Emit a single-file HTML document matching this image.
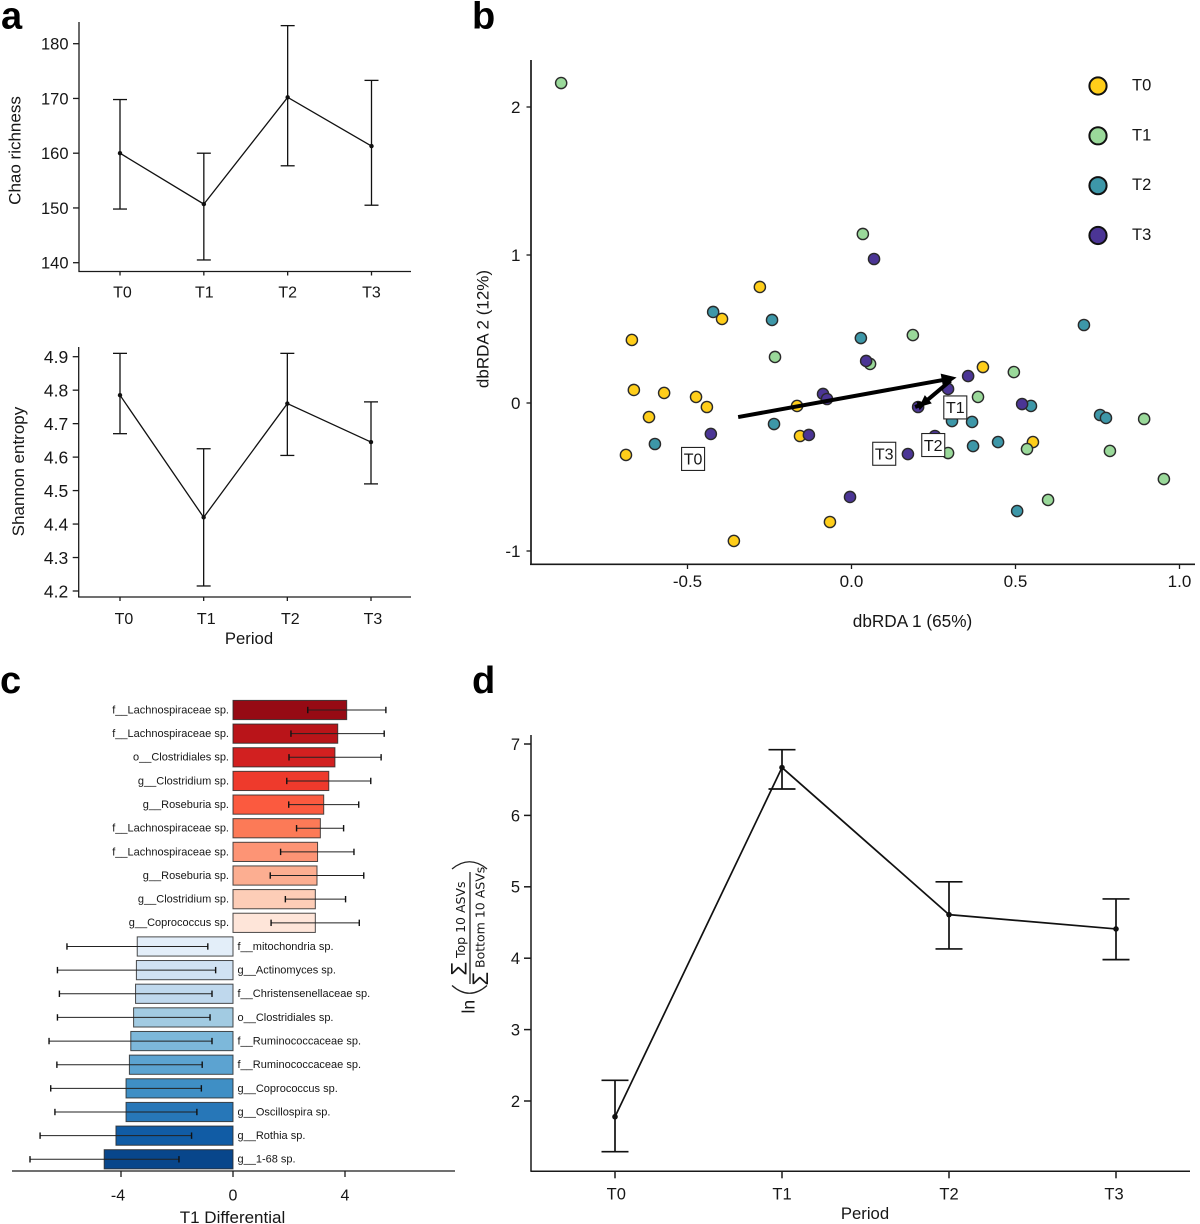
<!DOCTYPE html>
<html>
<head>
<meta charset="utf-8">
<style>
html,body{margin:0;padding:0;background:#fff;}
svg{display:block;font-family:"Liberation Sans",Arial,sans-serif;}
</style>
</head>
<body>
<svg id="fig" xmlns="http://www.w3.org/2000/svg" width="1200" height="1224" viewBox="0 0 1200 1224" fill="#161616">
  <rect width="1200" height="1224" fill="#fff"/>
  <text x="1" y="28.5" font-size="38" font-weight="bold" fill="#000">a</text>
  <text x="472" y="28.5" font-size="38" font-weight="bold" fill="#000">b</text>
  <text x="0" y="693" font-size="38" font-weight="bold" fill="#000">c</text>
  <text x="472" y="693" font-size="38" font-weight="bold" fill="#000">d</text>

  <text transform="translate(20.5,150.5) rotate(-90)" text-anchor="middle" font-size="17">Chao richness</text>
  <text transform="translate(24,471.5) rotate(-90)" text-anchor="middle" font-size="17">Shannon entropy</text>
  <text x="249" y="644" text-anchor="middle" font-size="16.7">Period</text>
  <text x="912.5" y="627" text-anchor="middle" font-size="17.2">dbRDA 1 (65%)</text>
  <text transform="translate(488.5,329) rotate(-90)" text-anchor="middle" font-size="17">dbRDA 2 (12%)</text>
  <text x="232.5" y="1223" text-anchor="middle" font-size="17">T1 Differential</text>
  <text x="865" y="1219" text-anchor="middle" font-size="16.7">Period</text>

  <g>
    <text transform="translate(474.3,1013.5) rotate(-90)" font-size="17.5">ln</text>
    <path d="M452 869Q469.5 854.5 487 869" fill="none" stroke="#222" stroke-width="1.3"/>
    <path d="M452 985.5Q469.5 1001 487 985.5" fill="none" stroke="#222" stroke-width="1.3"/>
    <line x1="470" y1="872" x2="470" y2="984" stroke="#222" stroke-width="1.3"/>
    <text transform="translate(466.7,975.5) rotate(-90)" font-size="22">Σ</text>
    <text transform="translate(465,958) rotate(-90)" font-size="12.5" font-family="DejaVu Sans">Top 10 ASVs</text>
    <text transform="translate(488,985.5) rotate(-90)" font-size="22">Σ</text>
    <text transform="translate(484.5,968) rotate(-90)" font-size="12.5" font-family="DejaVu Sans">Bottom 10 ASVs</text>
  </g>
</svg>
<script>
// ---- panel a (top) data
var periods = ['T0', 'T1', 'T2', 'T3'];
var chaoMean = [160, 150.7, 170.2, 161.3];
var chaoHigh = [169.8, 160, 183.3, 173.3];
var chaoLow = [149.8, 140.5, 157.7, 150.5];
var chaoTicks = [140, 150, 160, 170, 180];
// ---- panel a (bottom) data
var shannonMean = [4.785, 4.42, 4.76, 4.645];
var shannonHigh = [4.91, 4.625, 4.91, 4.765];
var shannonLow = [4.67, 4.215, 4.605, 4.52];
var shannonTicks = [4.2, 4.3, 4.4, 4.5, 4.6, 4.7, 4.8, 4.9];
// ---- panel b data
var t0X = [-0.666, -0.660, -0.614, -0.568, -0.471, -0.438, -0.684, -0.392, -0.277, -0.164, -0.155, -0.356, -0.064, 0.401, 0.553];
var t0Y = [0.426, 0.088, -0.095, 0.068, 0.041, -0.027, -0.351, 0.568, 0.784, -0.020, -0.223, -0.932, -0.804, 0.243, -0.264];
var t1X = [-0.881, 0.036, -0.231, 0.058, 0.188, 0.495, 0.386, 0.295, 0.535, 0.599, 0.787, 0.891, 0.951];
var t1Y = [2.162, 1.142, 0.311, 0.264, 0.459, 0.209, 0.041, -0.338, -0.311, -0.655, -0.324, -0.108, -0.514];
var t2X = [-0.419, -0.240, 0.030, -0.596, -0.234, 0.307, 0.368, 0.371, 0.447, 0.547, 0.505, 0.708, 0.757, 0.775];
var t2Y = [0.615, 0.561, 0.439, -0.277, -0.142, -0.122, -0.128, -0.291, -0.264, -0.020, -0.730, 0.527, -0.081, -0.101];
var t3X = [-0.426, -0.128, -0.085, -0.073, 0.046, 0.070, 0.356, 0.295, 0.204, 0.520, 0.255, 0.173, -0.003];
var t3Y = [-0.209, -0.216, 0.061, 0.027, 0.284, 0.973, 0.182, 0.095, -0.027, -0.007, -0.223, -0.345, -0.635];
var dbXTicks = [-0.5, 0, 0.5, 1.0];
var dbXTickLabels = ['-0.5', '0.0', '0.5', '1.0'];
var dbYTicks = [-1, 0, 1, 2];
var centroidX = [-0.343, 0.321, 0.204, 0.232];
var centroidY = [-0.095, 0.172, -0.027, 0.005];
var centroidLabelX = [-0.48, 0.317, 0.25, 0.101];
var centroidLabelY = [-0.378, -0.03, -0.284, -0.343];
var seriesNames = ['T0', 'T1', 'T2', 'T3'];
var seriesColors = ['#ffce1a', '#9ad99a', '#3d97a8', '#4b3595'];
// ---- panel c data
var taxa = ['f__Lachnospiraceae sp.', 'f__Lachnospiraceae sp.', 'o__Clostridiales sp.', 'g__Clostridium sp.', 'g__Roseburia sp.', 'f__Lachnospiraceae sp.', 'f__Lachnospiraceae sp.', 'g__Roseburia sp.', 'g__Clostridium sp.', 'g__Coprococcus sp.', 'f__mitochondria sp.', 'g__Actinomyces sp.', 'f__Christensenellaceae sp.', 'o__Clostridiales sp.', 'f__Ruminococcaceae sp.', 'f__Ruminococcaceae sp.', 'g__Coprococcus sp.', 'g__Oscillospira sp.', 'g__Rothia sp.', 'g__1-68 sp.'];
var differential = [4.06, 3.74, 3.64, 3.42, 3.24, 3.12, 3.02, 3.0, 2.94, 2.94, -3.42, -3.45, -3.48, -3.55, -3.65, -3.70, -3.82, -3.82, -4.18, -4.60];
var diffLow = [2.67, 2.07, 2.0, 1.92, 1.99, 2.27, 1.70, 1.33, 1.87, 1.36, -5.93, -6.27, -6.20, -6.27, -6.57, -6.29, -6.51, -6.36, -6.89, -7.25];
var diffHigh = [5.46, 5.40, 5.29, 4.92, 4.49, 3.95, 4.32, 4.67, 4.02, 4.51, -0.90, -0.62, -0.75, -0.82, -0.75, -1.10, -1.13, -1.29, -1.48, -1.93];
var barColors = ['#960a14', '#b91419', '#d22020', '#ee3a2c', '#fb5a3f', '#fc7a57', '#fd9475', '#fcae91', '#fdcdb7', '#fee5d9', '#e3eef9', '#d0e2f3', '#bfd8ed', '#a2cbe2', '#7db8da', '#5ca3d1', '#3f8fc5', '#2777b8', '#115ca5', '#08468b'];
var diffTicks = [-4, 0, 4];
// ---- panel d data
var ratioMean = [1.78, 6.67, 4.61, 4.41];
var ratioHigh = [2.29, 6.92, 5.07, 4.83];
var ratioLow = [1.29, 6.37, 4.13, 3.98];
var ratioTicks = [2, 3, 4, 5, 6, 7];

var NS = 'http://www.w3.org/2000/svg';
var fig = document.getElementById('fig');
function mk(tag, attrs, parent, txt) {
  var e = document.createElementNS(NS, tag);
  for (var k in attrs) e.setAttribute(k, attrs[k]);
  if (txt !== undefined) e.textContent = txt;
  (parent || fig).appendChild(e);
  return e;
}
function line(p, x1, y1, x2, y2, w, c) {
  return mk('line', {x1: x1, y1: y1, x2: x2, y2: y2, stroke: c || '#1a1a1a', 'stroke-width': w || 1.2}, p);
}
function linear(d0, d1, r0, r1) {
  return function (v) { return r0 + (v - d0) * (r1 - r0) / (d1 - d0); };
}
function group(name) {
  var g = mk('g', {});
  
  
  return g;
}

// generic period line chart with error bars
function periodChart(name, cfg) {
  var g = group(name);
  line(g, cfg.axisX, cfg.top, cfg.axisX, cfg.axisY, cfg.axisW);
  line(g, cfg.axisX - 0.6, cfg.axisY, cfg.right, cfg.axisY, cfg.axisW);
  cfg.ticks.forEach(function (t) {
    var y = cfg.y(t);
    var tick = line(g, cfg.axisX - cfg.yTickLen, y, cfg.axisX, y, cfg.axisW);
    
    
    var lab = mk('text', {x: cfg.axisX - cfg.labGap, y: y + cfg.yFont * 0.36, 'text-anchor': 'end', 'font-size': cfg.yFont}, g, cfg.fmt(t));
    
    
  });
  periods.forEach(function (p, i) {
    var tick = line(g, cfg.x(i), cfg.axisY, cfg.x(i), cfg.axisY + cfg.xTickLen, cfg.axisW);
    
    
    var lab = mk('text', {x: cfg.x(i) + cfg.xLabOff[i], y: cfg.axisY + cfg.xLabDy, 'text-anchor': 'middle', 'font-size': cfg.xFont}, g, p);
    
    
  });
  var pts = cfg.mean.map(function (m, i) { return cfg.x(i) + ',' + cfg.y(m); }).join(' ');
  var pl = mk('polyline', {points: pts, fill: 'none', stroke: '#111', 'stroke-width': cfg.lineW}, g);
  
  
  cfg.mean.forEach(function (m, i) {
    var x = cfg.x(i);
    var eb = mk('g', {}, g);
    
    
    line(eb, x, cfg.y(cfg.high[i]), x, cfg.y(cfg.low[i]), cfg.lineW, '#111');
    line(eb, x - cfg.cap, cfg.y(cfg.high[i]), x + cfg.cap, cfg.y(cfg.high[i]), cfg.lineW, '#111');
    line(eb, x - cfg.cap, cfg.y(cfg.low[i]), x + cfg.cap, cfg.y(cfg.low[i]), cfg.lineW, '#111');
    var dot = mk('circle', {cx: x, cy: cfg.y(m), r: cfg.dot, fill: '#111'}, g);
    
    
  });
}

periodChart('chao-richness-chart', {
  axisX: 79, top: 22, axisY: 271.5, right: 411, axisW: 1.3, lineW: 1.3, cap: 7, dot: 2.2, yFont: 16.5, xFont: 16, labGap: 10.5, xLabOff: [2.5, 0.5, 0, 0], xLabDy: 26, yTickLen: 6, xTickLen: 4,
  x: linear(0, 3, 120, 371.5), y: linear(140, 180, 262.7, 43.7),
  ticks: chaoTicks, mean: chaoMean, high: chaoHigh, low: chaoLow,
  fmt: function (t) { return String(t); }
});
periodChart('shannon-entropy-chart', {
  axisX: 78.7, top: 347, axisY: 597, right: 411, axisW: 1.3, lineW: 1.3, cap: 7, dot: 2.2, yFont: 17.5, xFont: 16, labGap: 10.5, xLabOff: [4, 2.6, 3, 2], xLabDy: 27, yTickLen: 6, xTickLen: 4,
  x: linear(0, 3, 120, 371), y: linear(4.2, 4.9, 591, 356.7),
  ticks: shannonTicks, mean: shannonMean, high: shannonHigh, low: shannonLow,
  fmt: function (t) { return t.toFixed(1); }
});
periodChart('log-ratio-chart', {
  axisX: 531, top: 735, axisY: 1171.3, right: 1190, axisW: 1.5, lineW: 1.7, cap: 13.5, dot: 2.8, yFont: 16.5, xFont: 16.5, labGap: 11, xLabOff: [1.3, 0, 0, -2], xLabDy: 28, yTickLen: 7, xTickLen: 7,
  x: linear(0, 3, 615, 1116), y: linear(2, 7, 1101, 744),
  ticks: ratioTicks, mean: ratioMean, high: ratioHigh, low: ratioLow,
  fmt: function (t) { return String(t); }
});

// panel b
(function () {
  var g = group('dbrda-ordination-chart');
  var x = linear(0, 1, 851, 1180);
  var y = linear(0, 1, 403, 255);
  var tickX = linear(-0.5, 1, 687.5, 1179.5);
  line(g, 531, 60, 531, 565, 1.7);
  line(g, 530, 564.3, 1195, 564.3, 1.7);
  dbXTicks.forEach(function (t, i) {
    var tick = line(g, tickX(t), 564, tickX(t), 569, 1.3);
    
    
    var lab = mk('text', {x: tickX(t), y: 587, 'text-anchor': 'middle', 'font-size': 17}, g, dbXTickLabels[i]);
    
    
  });
  dbYTicks.forEach(function (t) {
    var tick = line(g, 526.5, y(t), 531, y(t), 1.3);
    
    
    var lab = mk('text', {x: 520.5, y: y(t) + 6, 'text-anchor': 'end', 'font-size': 17}, g, String(t));
    
    
  });
  var allX = [t0X, t1X, t2X, t3X];
  var allY = [t0Y, t1Y, t2Y, t3Y];
  allX.forEach(function (xs, s) {
    xs.forEach(function (v, i) {
      var c = mk('circle', {cx: x(v), cy: y(allY[s][i]), r: 5.6, fill: seriesColors[s], stroke: '#2a2a2a', 'stroke-width': 1.4}, g);
      
      
    });
  });
  // centroid trajectory
  function arrow(x1, y1, x2, y2, w, head) {
    var a = Math.atan2(y2 - y1, x2 - x1);
    line(g, x1, y1, x2 - Math.cos(a) * head * 0.8, y2 - Math.sin(a) * head * 0.8, w, '#000');
    var p = [[x2, y2],
      [x2 - head * Math.cos(a) + head * 0.45 * Math.sin(a), y2 - head * Math.sin(a) - head * 0.45 * Math.cos(a)],
      [x2 - head * Math.cos(a) - head * 0.45 * Math.sin(a), y2 - head * Math.sin(a) + head * 0.45 * Math.cos(a)]];
    return mk('polygon', {points: p.map(function (q) { return q.join(','); }).join(' '), fill: '#000'}, g);
  }
  var a1 = arrow(x(centroidX[0]), y(centroidY[0]), x(centroidX[1]), y(centroidY[1]), 4, 15);
  
  
  var a2 = arrow(x(centroidX[1]) - 6, y(centroidY[1]) + 3, x(centroidX[2]) + 1, y(centroidY[2]), 4, 12);
  
  
  var a3 = arrow(x(centroidX[2]) - 3, y(centroidY[2]), x(centroidX[3]), y(centroidY[3]), 4, 10);
  
  
  // centroid labels
  seriesNames.forEach(function (n, i) {
    var cx = x(centroidLabelX[i]), cy = y(centroidLabelY[i]);
    var r = mk('rect', {x: cx - 11.5, y: cy - 11.5, width: 23, height: 23, fill: '#fff', stroke: '#222', 'stroke-width': 1.1}, g);
    
    
    var t = mk('text', {x: cx, y: cy + 5.8, 'text-anchor': 'middle', 'font-size': 16}, g, n);
    
    
  });
  // legend
  seriesNames.forEach(function (n, i) {
    var ly = linear(0, 3, 86, 235.5)(i);
    var c = mk('circle', {cx: 1098, cy: ly, r: 8.6, fill: seriesColors[i], stroke: '#111', 'stroke-width': 2}, g);
    
    
    var t = mk('text', {x: 1132, y: ly + 4.5, 'font-size': 16.5}, g, n);
    
    
  });
})();

// panel c
(function () {
  var g = group('differential-bar-chart');
  var x = linear(0, 4, 233, 345);
  var y = linear(0, 19, 710, 1159.3);
  taxa.forEach(function (name, i) {
    var v = differential[i];
    var b = mk('rect', {x: Math.min(x(0), x(v)), y: y(i) - 9.6, width: Math.abs(x(v) - x(0)), height: 19.2, fill: barColors[i], stroke: '#2b2b2b', 'stroke-width': 1, 'stroke-opacity': 0.85}, g);
    
    
    var eb = mk('g', {}, g);
    
    
    line(eb, x(diffLow[i]), y(i), x(diffHigh[i]), y(i), 1, '#222');
    line(eb, x(diffLow[i]), y(i) - 3.2, x(diffLow[i]), y(i) + 3.2, 1.4, '#111');
    line(eb, x(diffHigh[i]), y(i) - 3.2, x(diffHigh[i]), y(i) + 3.2, 1.4, '#111');
    var pos = v > 0;
    var t = mk('text', {x: pos ? x(0) - 4 : x(0) + 4.5, y: y(i) + 3.4, 'text-anchor': pos ? 'end' : 'start', 'font-size': 11}, g, name);
    
    
  });
  line(g, 12, 1171, 455, 1171, 1.3);
  diffTicks.forEach(function (t) {
    var tick = line(g, x(t), 1171, x(t), 1177, 1.3);
    
    
    var lab = mk('text', {x: x(t) - (t < 0 ? 3 : 0), y: 1200.7, 'text-anchor': 'middle', 'font-size': 16}, g, String(t));
    
    
  });
})();
</script>
</body>
</html>
